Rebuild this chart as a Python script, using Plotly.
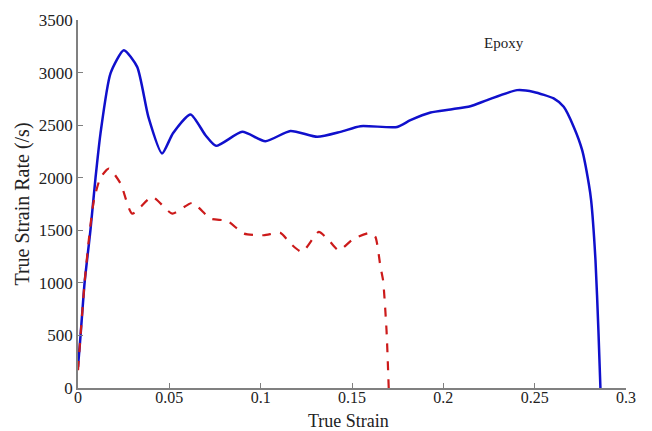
import plotly.graph_objects as go

# Blue solid curve (upper)
strain_blue = [0.0, 0.0014, 0.0036, 0.0068, 0.0096, 0.0123, 0.0178, 0.0251, 0.0324, 0.0386, 0.046, 0.052,
               0.0616, 0.0698, 0.0756, 0.0899, 0.1026, 0.1163, 0.131, 0.1437, 0.1546,
               0.1747, 0.182, 0.193, 0.2039, 0.2148, 0.224, 0.2404, 0.2495, 0.2604,
               0.2659, 0.2714, 0.276, 0.2796, 0.2809, 0.2833, 0.2849, 0.286]
rate_blue = [200, 500, 1000, 1500, 2000, 2420, 2993, 3213, 3054, 2573, 2230, 2423,
             2602, 2404, 2303, 2436, 2347, 2445, 2389, 2436, 2490,
             2483, 2547, 2620, 2649, 2680, 2738, 2833, 2816, 2754,
             2674, 2483, 2262, 1945, 1786, 1213, 547, 0]

# Red dashed curve (lower)
strain_red = [0.0, 0.0036, 0.0065, 0.0087, 0.0123, 0.0169, 0.0233, 0.0297, 0.0406, 0.0516,
              0.0625, 0.0725, 0.0817, 0.0908, 0.1017, 0.1108, 0.1163, 0.1227, 0.1318,
              0.1373, 0.1427, 0.151, 0.1601, 0.1628, 0.1656, 0.167, 0.1689, 0.1701]
rate_red = [170, 1000, 1500, 1784, 2000, 2087, 1945, 1659, 1817, 1659,
            1760, 1612, 1589, 1469, 1453, 1475, 1374, 1294, 1484,
            1405, 1310, 1421, 1475, 1437, 1151, 1025, 549, 0]

x_ticks = [0, 0.05, 0.1, 0.15, 0.2, 0.25, 0.3]
x_tick_labels = ["0", "0.05", "0.1", "0.15", "0.2", "0.25", "0.3"]
y_ticks = [0, 500, 1000, 1500, 2000, 2500, 3000, 3500]

FONT = "Liberation Serif, Times New Roman, serif"

fig = go.Figure()
fig.add_trace(go.Scatter(x=strain_blue, y=rate_blue, mode="lines",
                         line=dict(color="#1010CC", width=2.5, shape="spline", smoothing=0.6),
                         showlegend=False))
fig.add_trace(go.Scatter(x=strain_red, y=rate_red, mode="lines",
                         line=dict(color="#CC1A1A", width=2.2, dash="dash", shape="spline", smoothing=0.6),
                         showlegend=False))

fig.add_annotation(x=0.233, y=3280, text="Epoxy", showarrow=False,
                   font=dict(family=FONT, size=15, color="#222222"))

# x-axis title placed as paper annotation
fig.add_annotation(x=0.493, y=-0.0885, xref="paper", yref="paper", text="True Strain",
                   showarrow=False, yanchor="middle",
                   font=dict(family=FONT, size=18, color="#222222"))

axis_common = dict(showline=True, linecolor="#808080", linewidth=1.5, ticks="inside",
                   ticklen=5, tickcolor="#808080", showgrid=False, zeroline=False,
                   automargin=False)

fig.update_xaxes(range=[0, 0.3], tickvals=x_ticks, ticktext=x_tick_labels,
                 ticklabelstandoff=-6, tickfont=dict(family=FONT, size=16, color="#222222"),
                 **axis_common)
fig.update_yaxes(range=[0, 3500], tickvals=y_ticks,
                 tickfont=dict(family=FONT, size=17, color="#222222"),
                 title=dict(text="True Strain Rate (/s)", font=dict(family=FONT, size=20, color="#222222"), standoff=4),
                 **axis_common)

fig.update_layout(width=652, height=431, paper_bgcolor="white", plot_bgcolor="white",
                  margin=dict(l=78, r=26, t=20, b=43))

fig.write_html("out.html")
